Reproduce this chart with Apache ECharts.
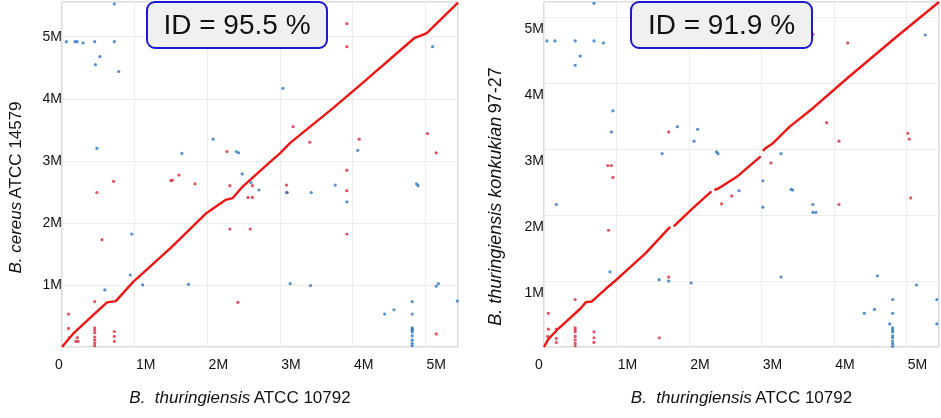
<!DOCTYPE html>
<html><head><meta charset="utf-8">
<script src="https://cdn.jsdelivr.net/npm/echarts@6/dist/echarts.min.js"></script>
<style>html,body{margin:0;padding:0;background:#fff}#c{width:941px;height:418px}</style>
</head><body><div id="c"></div>
<script>
// ---- data (genome positions in Mb) ----
const xMax = 5.45;
const leftYMax = 5.56;
const rightYMax = 5.23;
const xTickValues = [0, 1, 2, 3, 4, 5];
const leftIdentity = 'ID = 95.5 %';
const rightIdentity = 'ID = 91.9 %';
const xTitleSpecies = 'B.  thuringiensis';
const xTitleStrain = 'ATCC 10792';
const leftYSpecies = 'B. cereus';
const leftYStrain = 'ATCC 14579';
const rightYSpecies = 'B. thuringiensis konkukian';
const rightYStrain = '97-27';

const leftDiagSegments = [
  [[0,0],[0.15,0.21],[0.48,0.57],[0.62,0.72],[0.74,0.74],[0.98,1.05],[1.5,1.6],[1.99,2.16],[2.25,2.37],[2.35,2.40],[2.49,2.59],[2.9,3.02],[3.0,3.12],[3.14,3.29],[3.73,3.85],[4.19,4.31],[4.85,4.98],[4.92,5.01],[5.02,5.06],[5.45,5.55]]
];
const leftRed = [
  [3.92,5.21],[3.92,4.84],[3.18,3.55],[3.41,3.30],[4.09,3.35],[5.03,3.44],[5.15,3.13],[2.27,3.15],
  [3.92,2.85],[1.50,2.68],[1.52,2.69],[1.61,2.77],[1.83,2.63],[2.31,2.60],[2.62,2.60],[3.09,2.61],[3.10,2.49],
  [3.92,2.52],[2.56,2.41],[2.62,2.41],[0.71,2.67],[0.48,2.49],[0.55,1.73],[2.31,1.90],[2.59,1.90],
  [3.92,1.82],[2.42,0.72],[0.45,0.73],[0.09,0.53],[0.09,0.30],[0.10,0.15],[0.21,0.15],[0.19,0.09],[0.22,0.09],
  [0.45,0.31],[0.45,0.27],[0.45,0.23],[0.45,0.16],[0.45,0.11],[0.45,0.06],[0.45,0.02],
  [0.72,0.25],[0.72,0.17],[0.72,0.09],[5.15,0.21]
];
const leftBlue = [
  [0.72,5.53],[0.06,4.92],[0.18,4.92],[0.21,4.92],[0.29,4.90],[0.45,4.92],[0.72,4.92],[0.52,4.68],[0.46,4.55],
  [0.78,4.44],[0.48,3.20],[3.04,4.17],[5.10,4.84],[2.08,3.35],[1.65,3.12],[2.40,3.15],[2.43,3.13],[2.48,2.79],
  [2.60,2.65],[2.71,2.53],[3.09,2.49],[3.43,2.49],[3.76,2.61],[4.07,3.17],[3.92,2.34],[4.88,2.63],[4.90,2.60],
  [0.96,1.82],[0.94,1.16],[1.11,1.00],[0.59,0.92],[1.74,1.01],[3.14,1.02],[3.42,0.99],[5.15,0.98],[5.18,1.02],
  [5.44,0.74],[4.44,0.53],[4.57,0.60],[4.82,0.73],[4.82,0.53],
  [4.82,0.31],[4.82,0.29],[4.82,0.27],[4.82,0.24],[4.82,0.18],[4.82,0.11],[4.82,0.06],[4.82,0.02]
];

const rightDiagSegments = [
  [[0,0],[0.06,0.12],[0.2,0.28],[0.5,0.58],[0.58,0.68],[0.66,0.69],[0.86,0.89],[1.0,1.02],[1.4,1.42],[1.74,1.82]],
  [[1.79,1.83],[2.05,2.10],[2.31,2.36]],
  [[2.35,2.38],[2.40,2.40],[2.66,2.58],[2.99,2.89]],
  [[3.02,2.97],[3.05,3.01],[3.16,3.09],[3.39,3.34],[3.71,3.62],[4.18,4.07],[4.86,4.70],[5.45,5.23]]
];
const rightRed = [
  [3.71,4.74],[4.19,4.61],[1.72,3.26],[3.90,3.40],[4.07,3.12],[5.02,3.24],[5.04,3.15],[0.88,2.75],[0.93,2.75],
  [0.95,2.57],[3.13,2.79],[2.45,2.17],[2.59,2.29],[4.07,2.16],[5.06,2.26],[0.89,1.77],[1.72,1.06],[0.43,0.72],
  [0.06,0.51],[0.06,0.27],[0.17,0.27],[0.05,0.16],[0.17,0.13],[0.17,0.07],
  [0.43,0.29],[0.43,0.26],[0.43,0.23],[0.43,0.16],[0.43,0.11],[0.43,0.06],[0.43,0.02],
  [0.69,0.23],[0.69,0.14],[0.69,0.07],[1.59,0.14]
];
const rightBlue = [
  [0.69,5.21],[0.04,4.64],[0.15,4.64],[0.43,4.64],[0.69,4.64],[0.82,4.61],[0.50,4.41],[0.43,4.27],[5.26,4.73],
  [0.95,3.58],[0.93,3.26],[1.84,3.34],[2.12,3.30],[2.07,3.12],[1.63,2.93],[2.38,2.96],[2.40,2.93],[3.27,2.93],
  [3.02,2.52],[2.69,2.37],[3.02,2.12],[3.41,2.39],[3.43,2.38],[3.71,2.16],[3.71,2.04],[3.75,2.04],[0.17,2.16],
  [0.91,1.14],[1.59,1.02],[1.72,1.00],[2.03,0.97],[3.27,1.06],[4.60,1.08],[5.14,0.94],[5.42,0.72],[5.42,0.35],
  [4.42,0.51],[4.56,0.57],[4.81,0.72],[4.81,0.51],[4.77,0.35],
  [4.81,0.29],[4.81,0.26],[4.81,0.23],[4.81,0.17],[4.81,0.14],[4.81,0.09],[4.81,0.05],[4.81,0.01]
];

// ---- chart ----
const FONT = '"Liberation Sans", Arial, sans-serif';
const DIAG_COLOR = '#f01414';
const RED_DOT = '#d8283a';
const BLUE_DOT = '#2a74c8';

function xAxisCfg(gridIndex, zeroPad, namePad) {
  return {
    type: 'value', gridIndex, min: 0, max: xMax, interval: 1,
    axisLine: {show: false}, axisTick: {show: false},
    splitLine: {show: true, lineStyle: {color: '#ececec', width: 1}},
    axisLabel: {
      margin: 11, showMaxLabel: false, color: '#111', fontFamily: FONT, fontSize: 14,
      formatter: v => (v === 0 ? '{z|0}' : '{m|' + v + 'M}'),
      rich: {
        z: {fontSize: 14, fontFamily: FONT, color: '#111', padding: [0, zeroPad, 0, 0]},
        m: {fontSize: 14, fontFamily: FONT, color: '#111', padding: [0, 0, 0, 22]}
      }
    },
    name: '{i|' + xTitleSpecies + '} {n|' + xTitleStrain + '}',
    nameLocation: 'middle', nameGap: 43,
    nameTextStyle: {
      padding: namePad,
      rich: {
        i: {fontStyle: 'italic', fontSize: 17, fontFamily: FONT, color: '#111'},
        n: {fontSize: 17, fontFamily: FONT, color: '#111'}
      }
    }
  };
}
function yAxisCfg(gridIndex, max, labelPadTop, species, strain, nameGap, namePad, nameSize) {
  return {
    type: 'value', gridIndex, min: 0, max, interval: 1,
    axisLine: {show: false}, axisTick: {show: false},
    splitLine: {show: true, lineStyle: {color: '#ececec', width: 1}},
    axisLabel: {
      margin: 0, showMaxLabel: false, showMinLabel: false, color: '#111', fontFamily: FONT, fontSize: 14,
      formatter: v => (v === 0 ? '' : '{a|' + v + 'M}'),
      rich: {a: {fontSize: 14, fontFamily: FONT, color: '#111', padding: [labelPadTop, 0, 0, 0]}}
    },
    name: '{i|' + species + '} {n|' + strain + '}',
    nameLocation: 'middle', nameGap, nameRotate: 90,
    nameTextStyle: {
      padding: namePad,
      rich: {
        i: {fontStyle: 'italic', fontSize: nameSize, fontFamily: FONT, color: '#111'},
        n: {fontSize: nameSize, fontFamily: FONT, color: '#111'}
      }
    }
  };
}

const series = [];
function addPanel(idx, diagSegs, red, blue) {
  diagSegs.forEach(seg => series.push({
    type: 'line', xAxisIndex: idx, yAxisIndex: idx, data: seg, showSymbol: false,
    lineStyle: {color: DIAG_COLOR, width: 2.4}, silent: true, z: 3
  }));
  series.push({type: 'scatter', xAxisIndex: idx, yAxisIndex: idx, data: red, symbolSize: 3.2,
    itemStyle: {color: RED_DOT}, z: 4});
  series.push({type: 'scatter', xAxisIndex: idx, yAxisIndex: idx, data: blue, symbolSize: 3.2,
    itemStyle: {color: BLUE_DOT}, z: 4});
}
addPanel(0, leftDiagSegments, leftRed, leftBlue);
addPanel(1, rightDiagSegments, rightRed, rightBlue);

function idBox(x, w, text) {
  return [
    {type: 'rect', shape: {x: x, y: 2, width: w, height: 46, r: 8},
     style: {fill: '#f0f0f0', stroke: '#1a1ad4', lineWidth: 2}, z: 100},
    {type: 'text', x: x + w / 2, y: 26,
     style: {text, font: '28px ' + FONT, fill: '#111', align: 'center', verticalAlign: 'middle'}, z: 101}
  ];
}

const chart = echarts.init(document.getElementById('c'), null, {renderer: 'canvas'});
chart.setOption({
  animation: false,
  backgroundColor: '#ffffff',
  grid: [
    {left: 62, right: 483, top: 2, bottom: 71, show: true, borderColor: '#b8b8b8', borderWidth: 1, backgroundColor: 'transparent'},
    {left: 544, right: 2, top: 2, bottom: 71, show: true, borderColor: '#b8b8b8', borderWidth: 1, backgroundColor: 'transparent'}
  ],
  xAxis: [xAxisCfg(0, 6, [0, 40, 0, 0]), xAxisCfg(1, 10, [0, 0, 0, 0])],
  yAxis: [
    yAxisCfg(0, leftYMax, 0, leftYSpecies, leftYStrain, 37, [0, 26, 0, 0], 17),
    yAxisCfg(1, rightYMax, 24, rightYSpecies, rightYStrain, 39, [0, 44, 0, 0], 18)
  ],
  series,
  graphic: [].concat(idBox(147, 180, leftIdentity), idBox(631, 181, rightIdentity))
});
</script></body></html>
